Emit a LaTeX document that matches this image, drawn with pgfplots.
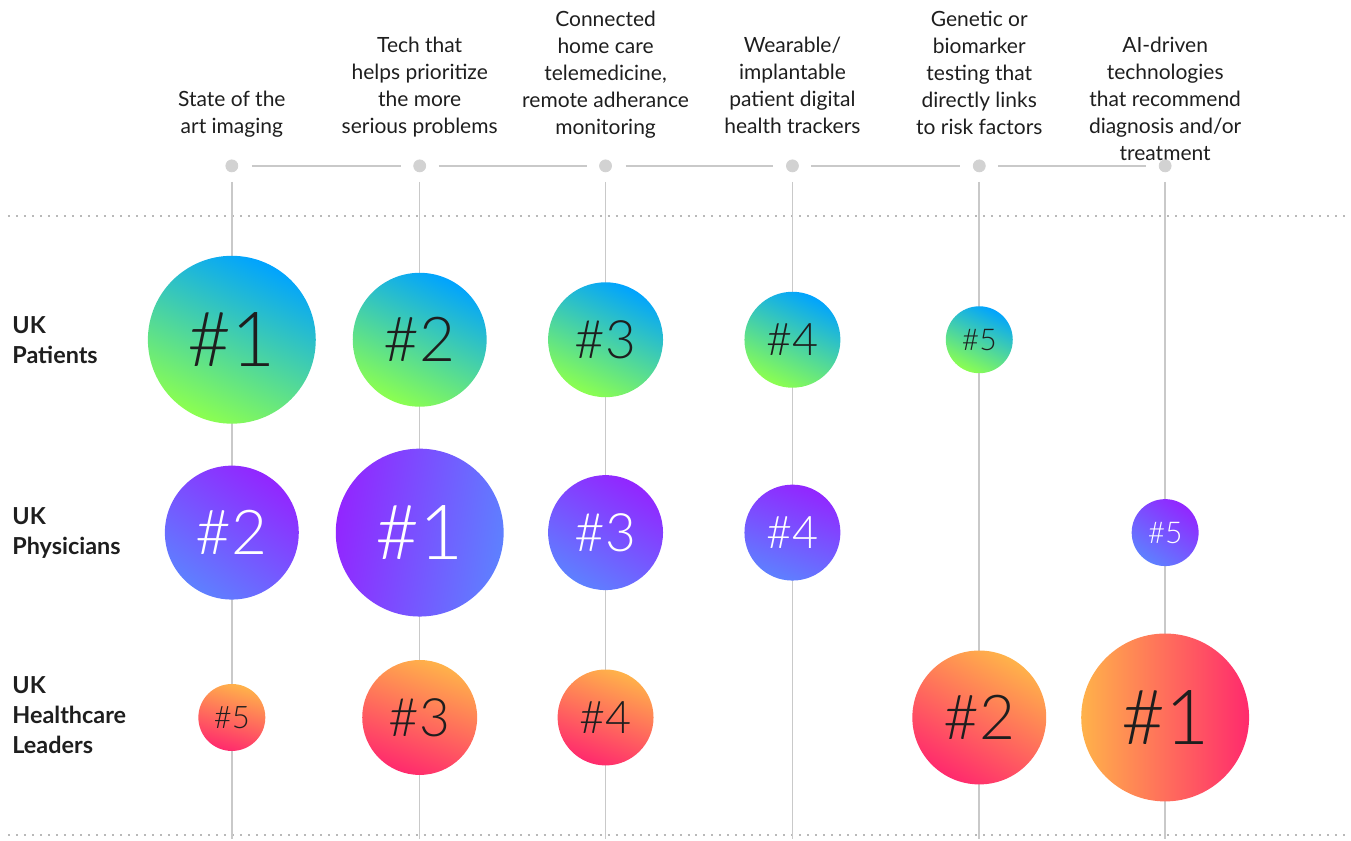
\documentclass[border=0pt]{standalone}
\usepackage{pgfplots}
\pgfplotsset{compat=1.18}
\usepackage{fontspec}
\setmainfont{Lato}
\newfontfamily\numfont{Lato Light}
\definecolor{pblue}{HTML}{00A3FF}
\definecolor{pgreen}{HTML}{8CFF50}
\definecolor{phpurple}{HTML}{9226FF}
\definecolor{phblue}{HTML}{5E80FF}
\definecolor{lorange}{HTML}{FFB24A}
\definecolor{lpink}{HTML}{FF2A6D}
\definecolor{linegray}{HTML}{C9C9C9}
\definecolor{dotgray}{HTML}{D2D2D2}
\definecolor{txt}{HTML}{1E1E1E}
\begin{document}
\begin{tikzpicture}
\begin{axis}[
  width=675.5pt, height=420pt, scale only axis,
  xmin=0, xmax=1351, ymin=-840, ymax=0,
  axis lines=none, clip=false,
  bubble/.style={only marks, mark=none, point meta=explicit symbolic,
    visualization depends on={\thisrow{d}\as\dd},
    visualization depends on={\thisrow{a}\as\ang},
    visualization depends on={\thisrow{f}\as\fs},
    nodes near coords={\#\pgfplotspointmeta}},
]
\path (axis cs:0,0) rectangle (axis cs:1351,-840);
% dotted separators
\addplot[dotgray!70!gray, line width=1pt, dash pattern=on 1pt off 3pt] coordinates {(8,-216) (1351,-216)};
\addplot[dotgray!70!gray, line width=1pt, dash pattern=on 1pt off 3pt] coordinates {(8,-836) (1351,-836)};
% vertical guide lines
\addplot[linegray, line width=0.8pt, unbounded coords=jump] coordinates {
 (232,-182) (232,-840) (nan,nan)
 (420,-182) (420,-840) (nan,nan)
 (606,-182) (606,-840) (nan,nan)
 (793,-182) (793,-840) (nan,nan)
 (980,-182) (980,-840) (nan,nan)
 (1166,-182) (1166,-840)};
% horizontal connector segments
\addplot[linegray, line width=0.8pt, unbounded coords=jump] coordinates {
 (252,-166) (401,-166) (nan,nan)
 (439,-166) (587,-166) (nan,nan)
 (626,-166) (774,-166) (nan,nan)
 (812,-166) (961,-166) (nan,nan)
 (999,-166) (1147,-166)};
% top dots
\addplot[only marks, mark=*, mark size=3pt, color=dotgray] coordinates {
 (232,-166) (420,-166) (606,-166) (793,-166) (980,-166) (1166,-166)};
% UK Patients
\addplot[bubble, every node near coord/.style={circle, inner sep=0pt, anchor=center,
  minimum size=\dd*0.5pt, top color=pblue, bottom color=pgreen, shading angle=\ang,
  text=txt, font=\numfont\fontsize{\fs}{\fs}\selectfont}] table[x=x, y=y, meta=lab] {
x y d a f lab
232 -340 168 -25 38 1
420 -340 134 -25 31 2
606 -340 115 -25 26.5 3
793 -340 96 -25 22.5 4
980 -340 67 -25 15 5
};
% UK Physicians
\addplot[bubble, every node near coord/.style={circle, inner sep=0pt, anchor=center,
  minimum size=\dd*0.5pt, top color=phpurple, bottom color=phblue, shading angle=\ang,
  text=white, font=\numfont\fontsize{\fs}{\fs}\selectfont}] table[x=x, y=y, meta=lab] {
x y d a f lab
232 -533 134 -35 31 2
420 -533 168 80 38 1
606 -533 115 -30 26.5 3
793 -533 96 -20 22.5 4
1166 -533 67 -35 15 5
};
% UK Healthcare Leaders
\addplot[bubble, every node near coord/.style={circle, inner sep=0pt, anchor=center,
  minimum size=\dd*0.5pt, top color=lorange, bottom color=lpink, shading angle=\ang,
  text=txt, font=\numfont\fontsize{\fs}{\fs}\selectfont}] table[x=x, y=y, meta=lab] {
x y d a f lab
232 -718 67 -15 15.5 5
420 -718 115 -20 26.5 3
606 -718 96 -20 22.5 4
980 -718 134 -30 31 2
1166 -718 168 90 38 1
};
% column labels
\begin{scope}[every node/.style={anchor=base, inner sep=0pt, text=txt, font=\fontsize{10.5}{13.5}\selectfont}]
\node at (axis cs:232,-107) {\begin{tabular}[t]{@{}c@{}}State of the\\art imaging\end{tabular}};
\node at (axis cs:420,-53) {\begin{tabular}[t]{@{}c@{}}Tech that\\helps prioritize\\the more\\serious problems\end{tabular}};
\node at (axis cs:606,-26.5) {\begin{tabular}[t]{@{}c@{}}Connected\\home care\\telemedicine,\\remote adherance\\monitoring\end{tabular}};
\node at (axis cs:793,-53) {\begin{tabular}[t]{@{}c@{}}Wearable/\\implantable\\patient digital\\health trackers\end{tabular}};
\node at (axis cs:980,-26.5) {\begin{tabular}[t]{@{}c@{}}Genetic or\\biomarker\\testing that\\directly links\\to risk factors\end{tabular}};
\node at (axis cs:1166,-53) {\begin{tabular}[t]{@{}c@{}}AI-driven\\technologies\\that recommend\\diagnosis and/or\\treatment\end{tabular}};
\end{scope}
% row labels
\begin{scope}[every node/.style={anchor=west, align=left, inner sep=0pt, text=txt, font=\bfseries\fontsize{11.7}{15}\selectfont}]
\node at (axis cs:12,-340) {UK\\Patients};
\node at (axis cs:12,-533) {UK\\Physicians};
\node at (axis cs:12,-716) {UK\\Healthcare\\Leaders};
\end{scope}
\end{axis}
\end{tikzpicture}
\end{document}
